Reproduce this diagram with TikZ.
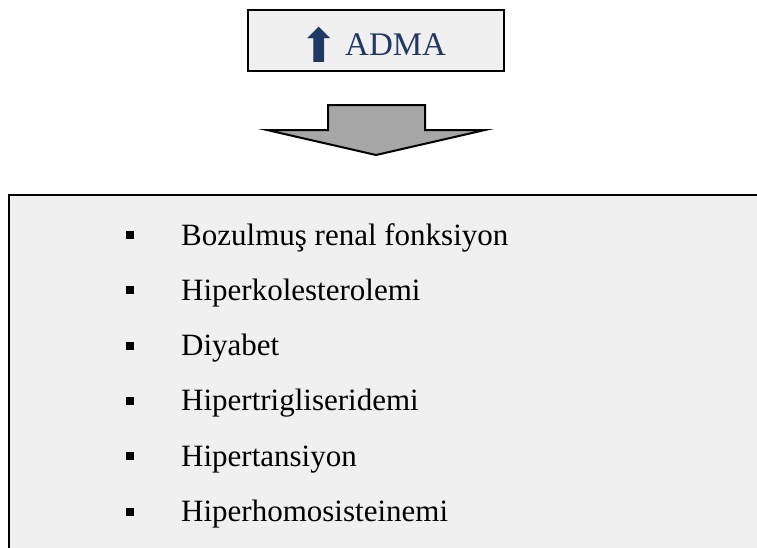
\documentclass[tikz,border=0pt]{standalone}
\usepackage{fontspec}
\setmainfont{Liberation Serif}
\newfontfamily\symfont{DejaVu Sans}
\definecolor{boxgray}{HTML}{F0F0F0}
\definecolor{arrowgray}{HTML}{A6A6A6}
\definecolor{admablue}{HTML}{1F3864}
\tikzset{
    framebox/.style={draw=black, line width=2pt, fill=boxgray},
    listitem/.style={anchor=base west, inner sep=0pt, font=\fontsize{31}{31}\selectfont},
    bulletmark/.style={fill=black, inner sep=0pt, minimum width=8pt, minimum height=8pt}
}

\begin{document}
\begin{tikzpicture}
    \useasboundingbox (0pt,0pt) rectangle (757pt,-547pt);
    \clip (0pt,0pt) rectangle (757pt,-547pt);
    % top box
    \node[framebox, minimum width=256pt, minimum height=61pt, inner sep=0pt] (top) at (376pt,-40.5pt) {};
    \node[anchor=base west, inner sep=0pt, text=admablue, font=\fontsize{33}{33}\selectfont] (adma) at (345pt,-55pt) {ADMA};
    \node[anchor=base east, inner sep=0pt, text=admablue, font=\symfont\fontsize{47}{47}\selectfont] (uparrow) at (339pt,-62.5pt) {⬆};
    % block arrow
    \draw[line width=2pt, fill=arrowgray, line join=miter]
        (328pt,-105pt) -- (425pt,-105pt) -- (425pt,-130pt) -- (485pt,-130pt)
        -- (376pt,-155pt) -- (267pt,-130pt) -- (328pt,-130pt) -- cycle;
    % list box
    \draw[framebox] (9pt,-195pt) rectangle (780pt,-570pt);
    \foreach \txt [count=\i from 0] in {Bozulmuş renal fonksiyon, Hiperkolesterolemi, Diyabet,
        Hipertrigliseridemi, Hipertansiyon, Hiperhomosisteinemi} {
        \node[bulletmark] (b\i) at (129.5pt,{-235pt-55.3pt*\i}) {};
        \node[listitem] (item\i) at (181pt,{-245pt-55.3pt*\i}) {\txt};
    }
\end{tikzpicture}
\end{document}
